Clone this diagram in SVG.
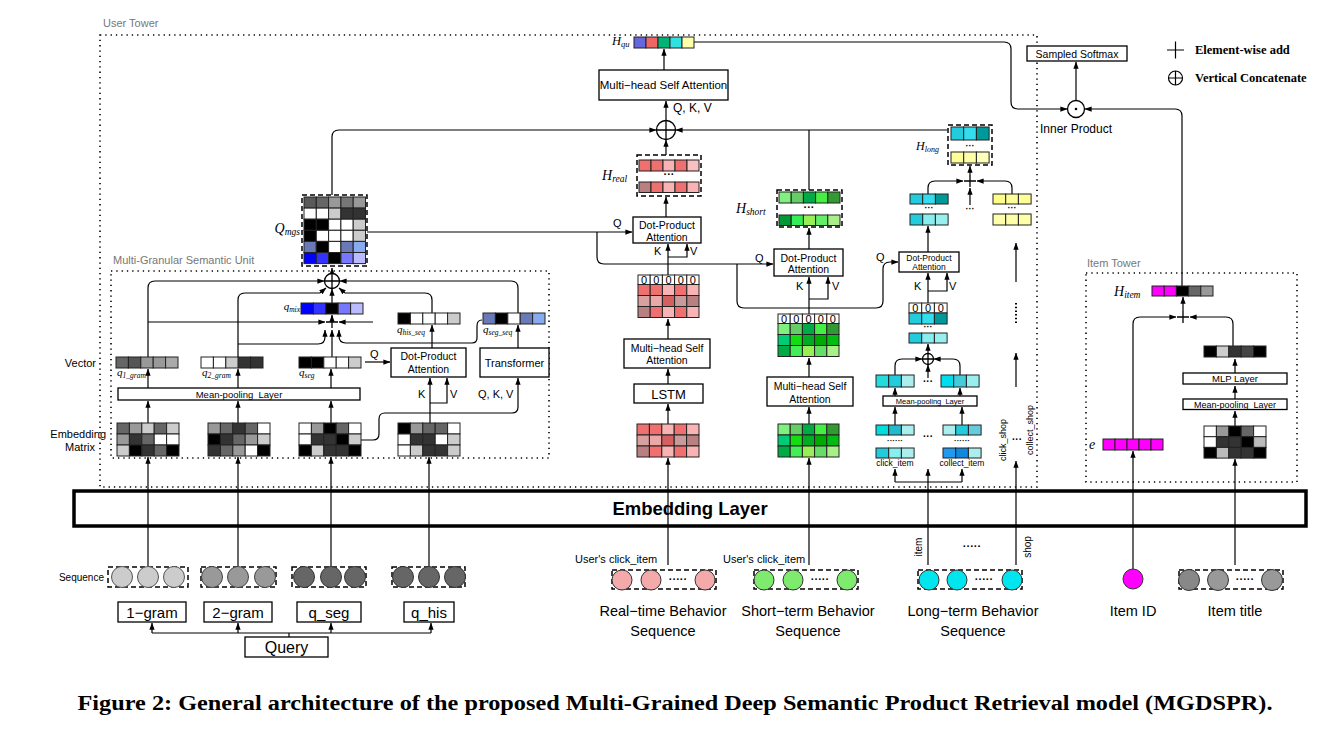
<svg xmlns="http://www.w3.org/2000/svg" width="1327" height="737" viewBox="0 0 1327 737">
<defs>
<marker id="ah" viewBox="0 0 8 6" refX="7.6" refY="3" markerWidth="7" markerHeight="5.5" markerUnits="userSpaceOnUse" orient="auto"><path d="M0,0 L8,3 L0,6 z" fill="#000"/></marker>
</defs>
<style>
.c{stroke:#222;stroke-width:1}
.bx{fill:#fff;stroke:#000;stroke-width:1.3}
.ln{fill:none;stroke:#000;stroke-width:1.2}
.a{marker-end:url(#ah)}
.dt{fill:none;stroke:#000;stroke-width:1.6;stroke-dasharray:1.3 4}
.ds{fill:none;stroke:#000;stroke-width:1.5;stroke-dasharray:5 3}
.t{font-family:"Liberation Sans",Arial,sans-serif;fill:#000}
.gr{fill:#777}
.m{font-family:"Liberation Serif","Times New Roman",serif;font-style:italic;fill:#000}
.mid{text-anchor:middle}
.end{text-anchor:end}
.z{font-family:"Liberation Sans",Arial,sans-serif;font-size:11px;text-anchor:middle}
</style>
<rect x="0" y="0" width="1327" height="737" fill="#fff"/>

<!-- containers -->
<g id="user-tower">
<rect class="dt" x="100" y="35" width="937" height="452"/>
<text class="t gr" x="103" y="27" font-size="11">User Tower</text>
</g>
<g id="mgsu-box">
<rect class="dt" x="111" y="271" width="438" height="187"/>
<text class="t gr" x="113" y="264" font-size="11">Multi-Granular Semantic Unit</text>
</g>
<g id="item-tower">
<rect class="dt" x="1086" y="273" width="211" height="209"/>
<text class="t gr" x="1087" y="267" font-size="11">Item Tower</text>
</g>

<g id="embedding-layer">
<rect x="74" y="491" width="1232" height="35" fill="#fff" stroke="#000" stroke-width="3.5"/>
<text class="t mid" x="690" y="515" font-size="18.5" font-weight="bold">Embedding Layer</text>
</g>

<!-- connectors -->
<g id="connectors">
<!-- query -->
<path class="ln" d="M289,637 V633 M152,633 H431"/>
<path class="ln a" d="M152,633 V623"/>
<path class="ln a" d="M238,633 V623"/>
<path class="ln a" d="M331,633 V623"/>
<path class="ln a" d="M431,633 V623"/>
<!-- sequences to matrices -->
<path class="ln a" d="M148,566 V457"/>
<path class="ln a" d="M238,566 V457"/>
<path class="ln a" d="M331,566 V457"/>
<path class="ln a" d="M429,566 V457"/>
<!-- matrices to mean pool to vectors -->
<path class="ln a" d="M148,423 V401"/>
<path class="ln a" d="M238,423 V401"/>
<path class="ln a" d="M331,423 V401"/>
<path class="ln a" d="M148,388 V369"/>
<path class="ln a" d="M238,388 V369"/>
<path class="ln a" d="M331,388 V369"/>
<!-- MGSU internal -->
<path class="ln a" d="M148,357 V288 Q148,281 155,281 H324"/>
<path class="ln a" d="M148,322 H325"/>
<path class="ln a" d="M238,357 V300 Q238,293 245,293 H320 L326,288"/>
<path class="ln a" d="M238,344 H318 Q325,344 325,337 V330"/>
<path class="ln a" d="M332,357 V330"/>
<path class="ln a" d="M482,320 Q477,320 477,326 V338 Q477,343 472,343 H346 Q339,343 339,336 V330"/>
<path class="ln a" d="M432,313 V300 Q432,293 425,293 H345 L339,288"/>
<path class="ln a" d="M518,313 V288 Q518,281 511,281 H340"/>
<path class="ln a" d="M373,322 H339"/>
<path class="ln a" d="M332,303 V289"/>
<path class="ln a" d="M332,319 V315"/>
<path class="ln a" d="M332,274 V268"/>
<path class="ln a" d="M365,362 H390"/>
<path class="ln a" d="M430,423 V378"/>
<path class="ln a" d="M430,403 H447 V378"/>
<path class="ln a" d="M432,348 V325"/>
<path class="ln a" d="M518,348 V325"/>
<path class="ln a" d="M361,440 H373 Q379,440 379,434 V419 Q379,413 385,413 H512 Q518,413 518,407 V378"/>
<!-- Q_mgs lines -->
<path class="ln a" d="M332,195 V137 Q332,130 339,130 H656"/>
<path class="ln a" d="M367,232 H632"/>
<path class="ln a" d="M597,232 V257 Q597,264 604,264 H773"/>
<path class="ln a" d="M737,264 V301 Q737,308 744,308 H876 Q883,308 883,301 V269 Q883,262 890,262 H898"/>
<!-- real-time column -->
<path class="ln a" d="M668,565 V458"/>
<path class="ln a" d="M668,424 V404"/>
<path class="ln a" d="M668,384 V369"/>
<path class="ln a" d="M668,339 V319"/>
<path class="ln a" d="M668,275 V244"/>
<path class="ln a" d="M668,257 H687 V244"/>
<path class="ln a" d="M666,217 V197"/>
<path class="ln a" d="M666,155 V140"/>
<path class="ln a" d="M666,121 V101"/>
<path class="ln a" d="M664,70 V49"/>
<path class="ln a" d="M694,42 H1004 Q1011,42 1011,49 V102 Q1011,109 1018,109 H1067"/>
<path class="ln a" d="M1076,101 V62"/>
<path class="ln a" d="M1182,286 V116 Q1182,109 1175,109 H1085"/>
<!-- short-term column -->
<path class="ln a" d="M809,565 V458"/>
<path class="ln a" d="M809,424 V407"/>
<path class="ln a" d="M809,377 V358"/>
<path class="ln a" d="M809,314 V277"/>
<path class="ln a" d="M809,299 H828 V277"/>
<path class="ln a" d="M809,249 V228"/>
<path class="ln" d="M809,190 V130"/>
<path class="ln a" d="M947,130 H676"/>
<!-- long-term column -->
<path class="ln a" d="M928,565 V469"/>
<path class="ln" d="M895,482 H962"/>
<path class="ln a" d="M895,482 V469"/>
<path class="ln a" d="M962,482 V469"/>
<path class="ln a" d="M895,425 V407"/>
<path class="ln a" d="M962,425 V407"/>
<path class="ln a" d="M895,396 V388"/>
<path class="ln a" d="M960,396 V388"/>
<path class="ln a" d="M895,375 V366 Q895,359 902,359 H922"/>
<path class="ln a" d="M960,375 V366 Q960,359 953,359 H934"/>
<path class="ln a" d="M928,378 V365"/>
<path class="ln a" d="M928,353 V344"/>
<path class="ln a" d="M928,303 V273"/>
<path class="ln a" d="M928,291 H947 V273"/>
<path class="ln a" d="M928,252 V226"/>
<path class="ln a" d="M928,194 V188 Q928,181 935,181 H963"/>
<path class="ln a" d="M1012,194 V188 Q1012,181 1005,181 H977"/>
<path class="ln a" d="M970,205 V188"/>
<path class="ln a" d="M970,175 V166"/>
<path class="ln a" d="M1016,565 V461"/>
<path class="ln a" d="M1016,387 V353"/>
<path d="M1016,303 V325" fill="none" stroke="#000" stroke-width="2" stroke-dasharray="1.5 2.2"/>
<path class="ln a" d="M1016,282 V243"/>
<!-- item tower -->
<path class="ln a" d="M1133,569 V451"/>
<path class="ln a" d="M1235,565 V459"/>
<path class="ln a" d="M1235,426 V411"/>
<path class="ln a" d="M1235,399 V386"/>
<path class="ln a" d="M1235,373 V359"/>
<path class="ln a" d="M1133,439 V324 Q1133,317 1140,317 H1176"/>
<path class="ln a" d="M1233,346 V324 Q1233,317 1226,317 H1190"/>
<path class="ln a" d="M1183,311 V297"/>
</g>

<!-- operators -->
<g id="ops" fill="none" stroke="#000" stroke-width="1.3">
<circle cx="332" cy="281" r="7.5" fill="#fff"/><path d="M324.5,281 H339.5 M332,273.5 V288.5"/>
<path d="M326,322 H338 M332,316 V328"/>
<circle cx="666" cy="130" r="9.5" fill="#fff"/><path d="M656.5,130 H675.5 M666,120.5 V139.5"/>
<circle cx="928" cy="359" r="5.5" fill="#fff"/><path d="M922.5,359 H933.5 M928,353.5 V364.5"/>
<path d="M964,181 H976 M970,175 V187"/>
<path d="M1177,317 H1189 M1183,311 V323"/>
<circle cx="1076" cy="109" r="8.5" fill="#fff"/>
</g>
<circle cx="1076" cy="109" r="1.3" fill="#000"/>
<text class="t mid" x="1076" y="133" font-size="12">Inner Product</text>

<g id="legend">
<path d="M1167,50 H1184 M1175.5,41.5 V58.5" stroke="#000" stroke-width="1.2" fill="none"/>
<text x="1195" y="54" font-family="Liberation Serif,Times New Roman,serif" font-weight="bold" font-size="12.5">Element-wise add</text>
<circle cx="1175.5" cy="78" r="7" fill="none" stroke="#000" stroke-width="1.2"/>
<path d="M1168.5,78 H1182.5 M1175.5,71 V85" stroke="#000" stroke-width="1.2" fill="none"/>
<text x="1195" y="82" font-family="Liberation Serif,Times New Roman,serif" font-weight="bold" font-size="12.5">Vertical Concatenate</text>
</g>

<g id="sampled-softmax">
<rect class="bx" x="1027" y="46" width="100" height="15"/>
<text class="t mid" x="1077" y="57.5" font-size="10.5">Sampled Softmax</text>
</g>

<!-- Query side -->
<g id="query">
<rect class="bx" x="245" y="637" width="83" height="20"/>
<text class="t mid" x="286.5" y="653" font-size="16">Query</text>
</g>
<g id="gram-boxes">
<rect class="bx" x="118" y="602" width="68" height="20"/><text class="t mid" x="152" y="618" font-size="15">1−gram</text>
<rect class="bx" x="204" y="602" width="68" height="20"/><text class="t mid" x="238" y="618" font-size="15">2−gram</text>
<rect class="bx" x="297" y="602" width="64" height="20"/><text class="t mid" x="329" y="618" font-size="15">q_seg</text>
<rect class="bx" x="404" y="602" width="50" height="20"/><text class="t mid" x="429" y="618" font-size="15">q_his</text>
</g>
<g id="query-sequences">
<text class="t end" x="104" y="581" font-size="10">Sequence</text>
<rect class="ds" x="108" y="567" width="80" height="20"/>
<circle cx="122" cy="577" r="10.5" fill="#cccccc" stroke="#555"/>
<circle cx="148" cy="577" r="10.5" fill="#cccccc" stroke="#555"/>
<circle cx="174" cy="577" r="10.5" fill="#cccccc" stroke="#555"/>
<rect class="ds" x="201" y="567" width="75" height="20"/>
<circle cx="212" cy="577" r="10.5" fill="#999" stroke="#444"/>
<circle cx="238" cy="577" r="10.5" fill="#999" stroke="#444"/>
<circle cx="265" cy="577" r="10.5" fill="#999" stroke="#444"/>
<rect class="ds" x="292" y="567" width="74" height="20"/>
<circle cx="304" cy="577" r="10.5" fill="#666" stroke="#333"/>
<circle cx="331" cy="577" r="10.5" fill="#666" stroke="#333"/>
<circle cx="355" cy="577" r="10.5" fill="#666" stroke="#333"/>
<rect class="ds" x="392" y="567" width="73" height="20"/>
<circle cx="403" cy="577" r="10.5" fill="#666" stroke="#333"/>
<circle cx="429" cy="577" r="10.5" fill="#666" stroke="#333"/>
<circle cx="455" cy="577" r="10.5" fill="#666" stroke="#333"/>
</g>

<!-- MGSU contents -->
<g id="emb-matrices" class="c">
<g transform="translate(117,423)">
<rect x="0" y="0" width="12.4" height="11" fill="#666"/><rect x="12.4" y="0" width="12.4" height="11" fill="#999"/><rect x="24.8" y="0" width="12.4" height="11" fill="#ccc"/><rect x="37.2" y="0" width="12.4" height="11" fill="#666"/><rect x="49.6" y="0" width="12.4" height="11" fill="#ccc"/>
<rect x="0" y="11" width="12.4" height="11" fill="#999"/><rect x="12.4" y="11" width="12.4" height="11" fill="#333"/><rect x="24.8" y="11" width="12.4" height="11" fill="#666"/><rect x="37.2" y="11" width="12.4" height="11" fill="#fff"/><rect x="49.6" y="11" width="12.4" height="11" fill="#fff"/>
<rect x="0" y="22" width="12.4" height="11" fill="#ccc"/><rect x="12.4" y="22" width="12.4" height="11" fill="#000"/><rect x="24.8" y="22" width="12.4" height="11" fill="#333"/><rect x="37.2" y="22" width="12.4" height="11" fill="#666"/><rect x="49.6" y="22" width="12.4" height="11" fill="#000"/>
</g>
<g transform="translate(208,423)">
<rect x="0" y="0" width="12.4" height="11" fill="#999"/><rect x="12.4" y="0" width="12.4" height="11" fill="#666"/><rect x="24.8" y="0" width="12.4" height="11" fill="#333"/><rect x="37.2" y="0" width="12.4" height="11" fill="#666"/><rect x="49.6" y="0" width="12.4" height="11" fill="#fff"/>
<rect x="0" y="11" width="12.4" height="11" fill="#000"/><rect x="12.4" y="11" width="12.4" height="11" fill="#333"/><rect x="24.8" y="11" width="12.4" height="11" fill="#666"/><rect x="37.2" y="11" width="12.4" height="11" fill="#999"/><rect x="49.6" y="11" width="12.4" height="11" fill="#ccc"/>
<rect x="0" y="22" width="12.4" height="11" fill="#333"/><rect x="12.4" y="22" width="12.4" height="11" fill="#666"/><rect x="24.8" y="22" width="12.4" height="11" fill="#999"/><rect x="37.2" y="22" width="12.4" height="11" fill="#fff"/><rect x="49.6" y="22" width="12.4" height="11" fill="#000"/>
</g>
<g transform="translate(299,423)">
<rect x="0" y="0" width="12.4" height="11" fill="#fff"/><rect x="12.4" y="0" width="12.4" height="11" fill="#999"/><rect x="24.8" y="0" width="12.4" height="11" fill="#000"/><rect x="37.2" y="0" width="12.4" height="11" fill="#666"/><rect x="49.6" y="0" width="12.4" height="11" fill="#fff"/>
<rect x="0" y="11" width="12.4" height="11" fill="#fff"/><rect x="12.4" y="11" width="12.4" height="11" fill="#333"/><rect x="24.8" y="11" width="12.4" height="11" fill="#333"/><rect x="37.2" y="11" width="12.4" height="11" fill="#000"/><rect x="49.6" y="11" width="12.4" height="11" fill="#ccc"/>
<rect x="0" y="22" width="12.4" height="11" fill="#000"/><rect x="12.4" y="22" width="12.4" height="11" fill="#ccc"/><rect x="24.8" y="22" width="12.4" height="11" fill="#333"/><rect x="37.2" y="22" width="12.4" height="11" fill="#333"/><rect x="49.6" y="22" width="12.4" height="11" fill="#000"/>
</g>
<g transform="translate(398,423)">
<rect x="0" y="0" width="12.4" height="11" fill="#000"/><rect x="12.4" y="0" width="12.4" height="11" fill="#999"/><rect x="24.8" y="0" width="12.4" height="11" fill="#666"/><rect x="37.2" y="0" width="12.4" height="11" fill="#666"/><rect x="49.6" y="0" width="12.4" height="11" fill="#fff"/>
<rect x="0" y="11" width="12.4" height="11" fill="#fff"/><rect x="12.4" y="11" width="12.4" height="11" fill="#333"/><rect x="24.8" y="11" width="12.4" height="11" fill="#333"/><rect x="37.2" y="11" width="12.4" height="11" fill="#fff"/><rect x="49.6" y="11" width="12.4" height="11" fill="#ccc"/>
<rect x="0" y="22" width="12.4" height="11" fill="#fff"/><rect x="12.4" y="22" width="12.4" height="11" fill="#ccc"/><rect x="24.8" y="22" width="12.4" height="11" fill="#333"/><rect x="37.2" y="22" width="12.4" height="11" fill="#333"/><rect x="49.6" y="22" width="12.4" height="11" fill="#ccc"/>
</g>
</g>
<text class="t end" x="96" y="367" font-size="11">Vector</text>
<text class="t end" x="106" y="438" font-size="11">Embedding</text>
<text class="t end" x="95" y="451" font-size="11">Matrix</text>

<g id="mean-pool-q">
<rect class="bx" x="118" y="388" width="242" height="12"/>
<text class="t mid" x="239" y="397.5" font-size="9.5" xml:space="preserve">Mean-pooling  Layer</text>
</g>

<g id="q-vectors" class="c">
<g transform="translate(116,357)"><rect x="0" width="12.4" height="11" fill="#666"/><rect x="12.4" width="12.4" height="11" fill="#555"/><rect x="24.8" width="12.4" height="11" fill="#999"/><rect x="37.2" width="12.4" height="11" fill="#999"/><rect x="49.6" width="12.4" height="11" fill="#aaa"/></g>
<g transform="translate(201,357)"><rect x="0" width="12.4" height="11" fill="#fff"/><rect x="12.4" width="12.4" height="11" fill="#fff"/><rect x="24.8" width="12.4" height="11" fill="#ccc"/><rect x="37.2" width="12.4" height="11" fill="#333"/><rect x="49.6" width="12.4" height="11" fill="#333"/></g>
<g transform="translate(299,357)"><rect x="0" width="12.4" height="11" fill="#000"/><rect x="12.4" width="12.4" height="11" fill="#000"/><rect x="24.8" width="12.4" height="11" fill="#fff"/><rect x="37.2" width="12.4" height="11" fill="#fff"/><rect x="49.6" width="12.4" height="11" fill="#ccc"/></g>
<g transform="translate(301,303)"><rect x="0" width="12.4" height="11" fill="#0000ff"/><rect x="12.4" width="12.4" height="11" fill="#3333ff"/><rect x="24.8" width="12.4" height="11" fill="#000"/><rect x="37.2" width="12.4" height="11" fill="#7777ff"/><rect x="49.6" width="12.4" height="11" fill="#bbbbff"/></g>
<g transform="translate(398,313)"><rect x="0" width="12.4" height="11" fill="#000"/><rect x="12.4" width="12.4" height="11" fill="#fff"/><rect x="24.8" width="12.4" height="11" fill="#fff"/><rect x="37.2" width="12.4" height="11" fill="#fff"/><rect x="49.6" width="12.4" height="11" fill="#ccc"/></g>
<g transform="translate(483,313)"><rect x="0" width="12.4" height="11" fill="#6a7ab8"/><rect x="12.4" width="12.4" height="11" fill="#000"/><rect x="24.8" width="12.4" height="11" fill="#fff"/><rect x="37.2" width="12.4" height="11" fill="#6a7ab8"/><rect x="49.6" width="12.4" height="11" fill="#88aaee"/></g>
</g>
<g id="q-labels">
<text class="m" x="117" y="376" font-size="11">q<tspan font-size="7.5" dy="1.5">1_gram</tspan></text>
<text class="m" x="202" y="376" font-size="11">q<tspan font-size="7.5" dy="1.5">2_gram</tspan></text>
<text class="m" x="299" y="376" font-size="11">q<tspan font-size="7.5" dy="1.5">seg</tspan></text>
<text class="m end" x="300" y="310" font-size="11">q<tspan font-size="7.5" dy="1.5">mix</tspan></text>
<text class="m" x="397" y="333" font-size="11">q<tspan font-size="7.5" dy="1.5">his_seq</tspan></text>
<text class="m" x="483" y="333" font-size="11">q<tspan font-size="7.5" dy="1.5">seg_seq</tspan></text>
</g>

<g id="dpa-q">
<rect class="bx" x="391" y="348" width="75" height="29"/>
<text class="t mid" x="428.5" y="360" font-size="10.5">Dot-Product</text>
<text class="t mid" x="428.5" y="373" font-size="10.5">Attention</text>
</g>
<g id="transformer">
<rect class="bx" x="480" y="348" width="69" height="29"/>
<text class="t mid" x="514.5" y="366.5" font-size="11">Transformer</text>
</g>
<g id="mgsu-labels">
<text class="t" x="370" y="358" font-size="11">Q</text>
<text class="t" x="418" y="398" font-size="11">K</text>
<text class="t" x="450" y="398" font-size="11">V</text>
<text class="t" x="478" y="398" font-size="11">Q, K, V</text>
</g>

<g id="q-mgs">
<g class="c" transform="translate(304,197)">
<rect x="0" y="0" width="12.3" height="11.1" fill="#5a5a5a"/><rect x="12.3" y="0" width="12.3" height="11.1" fill="#666"/><rect x="24.6" y="0" width="12.3" height="11.1" fill="#999"/><rect x="36.9" y="0" width="12.3" height="11.1" fill="#777"/><rect x="49.2" y="0" width="12.3" height="11.1" fill="#999"/>
<rect x="0" y="11.1" width="12.3" height="11.1" fill="#fff"/><rect x="12.3" y="11.1" width="12.3" height="11.1" fill="#fff"/><rect x="24.6" y="11.1" width="12.3" height="11.1" fill="#ccc"/><rect x="36.9" y="11.1" width="12.3" height="11.1" fill="#333"/><rect x="49.2" y="11.1" width="12.3" height="11.1" fill="#333"/>
<rect x="0" y="22.2" width="12.3" height="11.1" fill="#000"/><rect x="12.3" y="22.2" width="12.3" height="11.1" fill="#000"/><rect x="24.6" y="22.2" width="12.3" height="11.1" fill="#fff"/><rect x="36.9" y="22.2" width="12.3" height="11.1" fill="#fff"/><rect x="49.2" y="22.2" width="12.3" height="11.1" fill="#ccc"/>
<rect x="0" y="33.3" width="12.3" height="11.1" fill="#000"/><rect x="12.3" y="33.3" width="12.3" height="11.1" fill="#fff"/><rect x="24.6" y="33.3" width="12.3" height="11.1" fill="#fff"/><rect x="36.9" y="33.3" width="12.3" height="11.1" fill="#fff"/><rect x="49.2" y="33.3" width="12.3" height="11.1" fill="#ccc"/>
<rect x="0" y="44.4" width="12.3" height="11.1" fill="#6a7ab8"/><rect x="12.3" y="44.4" width="12.3" height="11.1" fill="#000"/><rect x="24.6" y="44.4" width="12.3" height="11.1" fill="#fff"/><rect x="36.9" y="44.4" width="12.3" height="11.1" fill="#6a7ab8"/><rect x="49.2" y="44.4" width="12.3" height="11.1" fill="#88aaee"/>
<rect x="0" y="55.5" width="12.3" height="11.1" fill="#0000ff"/><rect x="12.3" y="55.5" width="12.3" height="11.1" fill="#3333ff"/><rect x="24.6" y="55.5" width="12.3" height="11.1" fill="#000"/><rect x="36.9" y="55.5" width="12.3" height="11.1" fill="#7777ff"/><rect x="49.2" y="55.5" width="12.3" height="11.1" fill="#bbbbff"/>
</g>
<rect class="ds" x="302" y="195" width="65" height="71"/>
<text class="m end" x="300" y="233" font-size="14">Q<tspan font-size="9.5" dy="2">mgs</tspan></text>
</g>

<!-- Real-time column -->
<g id="realtime-seq">
<text class="t" x="575" y="563" font-size="11">User's click_item</text>
<rect class="ds" x="612" y="570" width="104" height="19"/>
<circle cx="622" cy="580" r="10" fill="#f4aaaa" stroke="#333"/>
<circle cx="651" cy="580" r="10" fill="#f4aaaa" stroke="#333"/>
<circle cx="705" cy="580" r="10" fill="#f4aaaa" stroke="#333"/>
<text class="t mid" x="678" y="583" font-size="11" font-weight="bold">·····</text>
<text class="t mid" x="663" y="616" font-size="14.5">Real−time Behavior</text>
<text class="t mid" x="663" y="636" font-size="14.5">Sequence</text>
</g>
<g id="pink-emb" class="c" transform="translate(637,424)">
<rect x="0" y="0" width="12.4" height="11" fill="#f07070"/><rect x="12.4" y="0" width="12.4" height="11" fill="#f07070"/><rect x="24.8" y="0" width="12.4" height="11" fill="#f8b4b4"/><rect x="37.2" y="0" width="12.4" height="11" fill="#f07070"/><rect x="49.6" y="0" width="12.4" height="11" fill="#f8b4b4"/>
<rect x="0" y="11" width="12.4" height="11" fill="#d9a0a0"/><rect x="12.4" y="11" width="12.4" height="11" fill="#eaa8a8"/><rect x="24.8" y="11" width="12.4" height="11" fill="#d46060"/><rect x="37.2" y="11" width="12.4" height="11" fill="#c89a9a"/><rect x="49.6" y="11" width="12.4" height="11" fill="#b88080"/>
<rect x="0" y="22" width="12.4" height="11" fill="#b88080"/><rect x="12.4" y="22" width="12.4" height="11" fill="#f07070"/><rect x="24.8" y="22" width="12.4" height="11" fill="#f8b4b4"/><rect x="37.2" y="22" width="12.4" height="11" fill="#f07070"/><rect x="49.6" y="22" width="12.4" height="11" fill="#f8b4b4"/>
</g>
<g id="lstm">
<rect class="bx" x="634" y="384" width="69" height="19"/>
<text class="t mid" x="668.5" y="398.5" font-size="13">LSTM</text>
</g>
<g id="mhsa-real">
<rect class="bx" x="624" y="339" width="86" height="29"/>
<text class="t mid" x="667" y="351.5" font-size="10.5">Multi−head Self</text>
<text class="t mid" x="667" y="364" font-size="10.5">Attention</text>
</g>
<g id="pink-zero" class="c" transform="translate(638,275)">
<rect x="0" y="0" width="12.2" height="9.5" fill="#fff"/><rect x="12.2" y="0" width="12.2" height="9.5" fill="#fff"/><rect x="24.4" y="0" width="12.2" height="9.5" fill="#fff"/><rect x="36.6" y="0" width="12.2" height="9.5" fill="#fff"/><rect x="48.8" y="0" width="12.2" height="9.5" fill="#fff"/>
<rect x="0" y="9.5" width="12.2" height="11" fill="#f07070"/><rect x="12.2" y="9.5" width="12.2" height="11" fill="#f07070"/><rect x="24.4" y="9.5" width="12.2" height="11" fill="#f8b4b4"/><rect x="36.6" y="9.5" width="12.2" height="11" fill="#f07070"/><rect x="48.8" y="9.5" width="12.2" height="11" fill="#f8b4b4"/>
<rect x="0" y="20.5" width="12.2" height="11" fill="#d9a0a0"/><rect x="12.2" y="20.5" width="12.2" height="11" fill="#eaa8a8"/><rect x="24.4" y="20.5" width="12.2" height="11" fill="#d46060"/><rect x="36.6" y="20.5" width="12.2" height="11" fill="#c89a9a"/><rect x="48.8" y="20.5" width="12.2" height="11" fill="#b88080"/>
<rect x="0" y="31.5" width="12.2" height="11" fill="#b88080"/><rect x="12.2" y="31.5" width="12.2" height="11" fill="#f07070"/><rect x="24.4" y="31.5" width="12.2" height="11" fill="#f8b4b4"/><rect x="36.6" y="31.5" width="12.2" height="11" fill="#f07070"/><rect x="48.8" y="31.5" width="12.2" height="11" fill="#f8b4b4"/>
<g class="z" stroke="none"><text x="6.1" y="8.8">0</text><text x="18.3" y="8.8">0</text><text x="30.5" y="8.8">0</text><text x="42.7" y="8.8">0</text><text x="54.9" y="8.8">0</text></g>
</g>
<g id="dpa-real">
<rect class="bx" x="633" y="217" width="68" height="26"/>
<text class="t mid" x="667" y="229" font-size="10.5">Dot-Product</text>
<text class="t mid" x="667" y="241" font-size="10.5">Attention</text>
<text class="t" x="613" y="227" font-size="11">Q</text>
<text class="t" x="654" y="255" font-size="11">K</text>
<text class="t" x="690" y="255" font-size="11">V</text>
</g>
<g id="h-real">
<g class="c" transform="translate(639,160)">
<rect x="0" width="12" height="11" fill="#f07070"/><rect x="12" width="12" height="11" fill="#f07070"/><rect x="24" width="12" height="11" fill="#f8b4b4"/><rect x="36" width="12" height="11" fill="#f07070"/><rect x="48" width="12" height="11" fill="#f8c0c0"/>
</g>
<g class="c" transform="translate(639,182)">
<rect x="0" width="12" height="10.5" fill="#b88080"/><rect x="12" width="12" height="10.5" fill="#f07070"/><rect x="24" width="12" height="10.5" fill="#f8b4b4"/><rect x="36" width="12" height="10.5" fill="#f07070"/><rect x="48" width="12" height="10.5" fill="#f8b4b4"/>
</g>
<text class="t mid" x="669" y="178" font-size="11" font-weight="bold">···</text>
<rect class="ds" x="637" y="155" width="64" height="41"/>
<text class="m" x="602" y="180" font-size="14">H<tspan font-size="9.5" dy="2">real</tspan></text>
</g>
<g id="concat-top-label">
<text class="t" x="673" y="112" font-size="12">Q, K, V</text>
</g>
<g id="mhsa-top">
<rect class="bx" x="599" y="70" width="129" height="30"/>
<text class="t mid" x="663.5" y="89" font-size="11.5">Multi−head Self Attention</text>
</g>
<g id="h-qu">
<g class="c" transform="translate(634,37)">
<rect x="0" width="12" height="11" fill="#6666dd"/><rect x="12" width="12" height="11" fill="#ee6666"/><rect x="24" width="12" height="11" fill="#00b377"/><rect x="36" width="12" height="11" fill="#33e0e0"/><rect x="48" width="12" height="11" fill="#ffffaa"/>
</g>
<text class="m" x="612" y="45" font-size="12.5">H<tspan font-size="8.5" dy="2">qu</tspan></text>
</g>

<!-- Short-term column -->
<g id="shortterm-seq">
<text class="t" x="723" y="563" font-size="11">User's click_item</text>
<rect class="ds" x="754" y="570" width="104" height="19"/>
<circle cx="764" cy="580" r="10" fill="#7eea6e" stroke="#333"/>
<circle cx="793" cy="580" r="10" fill="#7eea6e" stroke="#333"/>
<circle cx="847" cy="580" r="10" fill="#7eea6e" stroke="#333"/>
<text class="t mid" x="820" y="583" font-size="11" font-weight="bold">·····</text>
<text class="t mid" x="808" y="616" font-size="14.5">Short−term Behavior</text>
<text class="t mid" x="808" y="636" font-size="14.5">Sequence</text>
</g>
<g id="green-emb" class="c" transform="translate(778,424)">
<rect x="0" y="0" width="12.2" height="11" fill="#80f080"/><rect x="12.2" y="0" width="12.2" height="11" fill="#66cc66"/><rect x="24.4" y="0" width="12.2" height="11" fill="#00aa44"/><rect x="36.6" y="0" width="12.2" height="11" fill="#44ee44"/><rect x="48.8" y="0" width="12.2" height="11" fill="#339933"/>
<rect x="0" y="11" width="12.2" height="11" fill="#00cc77"/><rect x="12.2" y="11" width="12.2" height="11" fill="#11dd11"/><rect x="24.4" y="11" width="12.2" height="11" fill="#00aa22"/><rect x="36.6" y="11" width="12.2" height="11" fill="#00aa00"/><rect x="48.8" y="11" width="12.2" height="11" fill="#00bb11"/>
<rect x="0" y="22" width="12.2" height="11" fill="#00aa44"/><rect x="12.2" y="22" width="12.2" height="11" fill="#44ee55"/><rect x="24.4" y="22" width="12.2" height="11" fill="#99ee55"/><rect x="36.6" y="22" width="12.2" height="11" fill="#66dd66"/><rect x="48.8" y="22" width="12.2" height="11" fill="#aaee88"/>
</g>
<g id="mhsa-short">
<rect class="bx" x="767" y="377" width="86" height="29"/>
<text class="t mid" x="810" y="390" font-size="10.5">Multi−head Self</text>
<text class="t mid" x="810" y="402.5" font-size="10.5">Attention</text>
</g>
<g id="green-zero" class="c" transform="translate(778,314)">
<rect x="0" y="0" width="12.2" height="9.5" fill="#fff"/><rect x="12.2" y="0" width="12.2" height="9.5" fill="#fff"/><rect x="24.4" y="0" width="12.2" height="9.5" fill="#fff"/><rect x="36.6" y="0" width="12.2" height="9.5" fill="#fff"/><rect x="48.8" y="0" width="12.2" height="9.5" fill="#fff"/>
<rect x="0" y="9.5" width="12.2" height="11" fill="#80f080"/><rect x="12.2" y="9.5" width="12.2" height="11" fill="#66cc66"/><rect x="24.4" y="9.5" width="12.2" height="11" fill="#00aa44"/><rect x="36.6" y="9.5" width="12.2" height="11" fill="#44ee44"/><rect x="48.8" y="9.5" width="12.2" height="11" fill="#339933"/>
<rect x="0" y="20.5" width="12.2" height="11" fill="#00cc77"/><rect x="12.2" y="20.5" width="12.2" height="11" fill="#11dd11"/><rect x="24.4" y="20.5" width="12.2" height="11" fill="#00aa22"/><rect x="36.6" y="20.5" width="12.2" height="11" fill="#00aa00"/><rect x="48.8" y="20.5" width="12.2" height="11" fill="#00bb11"/>
<rect x="0" y="31.5" width="12.2" height="11" fill="#00aa44"/><rect x="12.2" y="31.5" width="12.2" height="11" fill="#44ee55"/><rect x="24.4" y="31.5" width="12.2" height="11" fill="#99ee55"/><rect x="36.6" y="31.5" width="12.2" height="11" fill="#66dd66"/><rect x="48.8" y="31.5" width="12.2" height="11" fill="#aaee88"/>
<g class="z" stroke="none"><text x="6.1" y="8.8">0</text><text x="18.3" y="8.8">0</text><text x="30.5" y="8.8">0</text><text x="42.7" y="8.8">0</text><text x="54.9" y="8.8">0</text></g>
</g>
<g id="dpa-short">
<rect class="bx" x="774" y="249" width="69" height="27"/>
<text class="t mid" x="808.5" y="261.5" font-size="10.5">Dot-Product</text>
<text class="t mid" x="808.5" y="273" font-size="10.5">Attention</text>
<text class="t" x="755" y="262" font-size="11">Q</text>
<text class="t" x="796" y="290" font-size="11">K</text>
<text class="t" x="832" y="290" font-size="11">V</text>
</g>
<g id="h-short">
<g class="c" transform="translate(779,192)">
<rect x="0" width="12.2" height="11" fill="#80f080"/><rect x="12.2" width="12.2" height="11" fill="#66cc66"/><rect x="24.4" width="12.2" height="11" fill="#00aa44"/><rect x="36.6" width="12.2" height="11" fill="#44ee44"/><rect x="48.8" width="12.2" height="11" fill="#339933"/>
</g>
<g class="c" transform="translate(779,215)">
<rect x="0" width="12.2" height="10.5" fill="#009933"/><rect x="12.2" width="12.2" height="10.5" fill="#33ee55"/><rect x="24.4" width="12.2" height="10.5" fill="#99ee55"/><rect x="36.6" width="12.2" height="10.5" fill="#66ee66"/><rect x="48.8" width="12.2" height="10.5" fill="#aaee88"/>
</g>
<text class="t mid" x="809" y="211" font-size="11" font-weight="bold">···</text>
<rect class="ds" x="777" y="190" width="65" height="37"/>
<text class="m" x="736" y="213" font-size="14">H<tspan font-size="9.5" dy="2">short</tspan></text>
</g>

<!-- Long-term column -->
<g id="longterm-seq">
<text class="t mid" x="0" y="0" font-size="10" transform="translate(922,547) rotate(-90)">item</text>
<text class="t mid" x="0" y="0" font-size="10" transform="translate(1031,547) rotate(-90)">shop</text>
<text class="t mid" x="972" y="550" font-size="11" font-weight="bold">·····</text>
<rect class="ds" x="918" y="570" width="104" height="19"/>
<circle cx="929" cy="580" r="10" fill="#00e5ee" stroke="#333"/>
<circle cx="957" cy="580" r="10" fill="#00e5ee" stroke="#333"/>
<circle cx="1012" cy="580" r="10" fill="#00e5ee" stroke="#333"/>
<text class="t mid" x="984" y="583" font-size="11" font-weight="bold">·····</text>
<text class="t mid" x="973" y="616" font-size="14.5">Long−term Behavior</text>
<text class="t mid" x="973" y="636" font-size="14.5">Sequence</text>
</g>
<g id="long-item-emb">
<g class="c" transform="translate(876,425)"><rect x="0" width="12.7" height="10" fill="#00dddd"/><rect x="12.7" width="12.7" height="10" fill="#22bbcc"/><rect x="25.4" width="12.7" height="10" fill="#aaeeee"/></g>
<g class="c" transform="translate(876,448)"><rect x="0" width="12.7" height="10" fill="#22ccdd"/><rect x="12.7" width="12.7" height="10" fill="#88eeee"/><rect x="25.4" width="12.7" height="10" fill="#aaeeee"/></g>
<g class="c" transform="translate(943,425)"><rect x="0" width="12.7" height="10" fill="#aaeeee"/><rect x="12.7" width="12.7" height="10" fill="#22ccdd"/><rect x="25.4" width="12.7" height="10" fill="#66ccdd"/></g>
<g class="c" transform="translate(943,448)"><rect x="0" width="12.7" height="10" fill="#2299ee"/><rect x="12.7" width="12.7" height="10" fill="#1188dd"/><rect x="25.4" width="12.7" height="10" fill="#aaeeee"/></g>
<text class="t mid" x="895" y="443" font-size="8" font-weight="bold">······</text>
<text class="t mid" x="962" y="443" font-size="8" font-weight="bold">······</text>
<text class="t mid" x="928" y="440" font-size="10" font-weight="bold">···</text>
<text class="t mid" x="895" y="466" font-size="8.5">click_item</text>
<text class="t mid" x="962" y="466" font-size="8.5">collect_item</text>
</g>
<g id="mean-pool-long">
<rect class="bx" x="883" y="396" width="94" height="10"/>
<text class="t mid" x="930" y="404" font-size="7.5" xml:space="preserve">Mean-pooling  Layer</text>
</g>
<g id="long-pooled">
<g class="c" transform="translate(876,375)"><rect x="0" width="12.7" height="12" fill="#22dddd"/><rect x="12.7" width="12.7" height="12" fill="#22ccdd"/><rect x="25.4" width="12.7" height="12" fill="#aaeeee"/></g>
<g class="c" transform="translate(941,375)"><rect x="0" width="12.7" height="12" fill="#00ddee"/><rect x="12.7" width="12.7" height="12" fill="#44ccdd"/><rect x="25.4" width="12.7" height="12" fill="#99eeee"/></g>
<text class="t mid" x="928" y="385" font-size="10" font-weight="bold">···</text>
</g>
<g id="long-concat">
<g class="c" transform="translate(909,333)"><rect x="0" width="12.7" height="10" fill="#22ccdd"/><rect x="12.7" width="12.7" height="10" fill="#88eeee"/><rect x="25.4" width="12.7" height="10" fill="#99eeee"/></g>
<text class="t mid" x="928" y="330" font-size="9" font-weight="bold">···</text>
<g class="c" transform="translate(909,303)">
<rect x="0" y="0" width="12.7" height="10" fill="#fff"/><rect x="12.7" y="0" width="12.7" height="10" fill="#fff"/><rect x="25.4" y="0" width="12.7" height="10" fill="#fff"/>
<rect x="0" y="10" width="12.7" height="11" fill="#22ccdd"/><rect x="12.7" y="10" width="12.7" height="11" fill="#33ddee"/><rect x="25.4" y="10" width="12.7" height="11" fill="#009999"/>
<g class="z" stroke="none" font-size="10"><text x="6.35" y="9">0</text><text x="19.05" y="9">0</text><text x="31.75" y="9">0</text></g>
</g>
</g>
<g id="dpa-long">
<rect class="bx" x="899" y="252" width="60" height="20"/>
<text class="t mid" x="929" y="261" font-size="8.5">Dot-Product</text>
<text class="t mid" x="929" y="270" font-size="8.5">Attention</text>
<text class="t" x="876" y="261" font-size="11">Q</text>
<text class="t" x="914" y="290" font-size="11">K</text>
<text class="t" x="949" y="290" font-size="11">V</text>
</g>
<g id="long-att-out">
<g class="c" transform="translate(910,194)"><rect x="0" width="12.7" height="10" fill="#22ccdd"/><rect x="12.7" width="12.7" height="10" fill="#33ddee"/><rect x="25.4" width="12.7" height="10" fill="#009999"/></g>
<g class="c" transform="translate(910,214)"><rect x="0" width="12.7" height="11" fill="#22ccdd"/><rect x="12.7" width="12.7" height="11" fill="#88eeee"/><rect x="25.4" width="12.7" height="11" fill="#99eeee"/></g>
<text class="t mid" x="929" y="211" font-size="9" font-weight="bold">···</text>
<g class="c" transform="translate(993,194)"><rect x="0" width="12.7" height="10" fill="#ffff88"/><rect x="12.7" width="12.7" height="10" fill="#ffff99"/><rect x="25.4" width="12.7" height="10" fill="#ffff99"/></g>
<g class="c" transform="translate(993,214)"><rect x="0" width="12.7" height="11" fill="#ffffaa"/><rect x="12.7" width="12.7" height="11" fill="#ffffaa"/><rect x="25.4" width="12.7" height="11" fill="#ffffaa"/></g>
<text class="t mid" x="1012" y="211" font-size="9" font-weight="bold">···</text>
<text class="t mid" x="970" y="212" font-size="9" font-weight="bold">···</text>
</g>
<g id="h-long">
<g class="c" transform="translate(951,127)"><rect x="0" width="12.7" height="13" fill="#22ccdd"/><rect x="12.7" width="12.7" height="13" fill="#33ddee"/><rect x="25.4" width="12.7" height="13" fill="#009999"/></g>
<g class="c" transform="translate(951,152)"><rect x="0" width="12.7" height="11" fill="#ffff99"/><rect x="12.7" width="12.7" height="11" fill="#ffffaa"/><rect x="25.4" width="12.7" height="11" fill="#ffffbb"/></g>
<text class="t mid" x="970" y="149" font-size="9" font-weight="bold">···</text>
<rect class="ds" x="948" y="125" width="44" height="40"/>
<text class="m" x="916" y="150" font-size="12">H<tspan font-size="8" dy="2">long</tspan></text>
</g>
<g id="shop-branch">
<text class="t mid" x="0" y="0" font-size="9" transform="translate(1006,440) rotate(-90)">click_shop</text>
<text class="t mid" x="0" y="0" font-size="9" transform="translate(1033,430) rotate(-90)">collect_shop</text>
<text class="t mid" x="1017" y="443" font-size="10" font-weight="bold">···</text>
</g>

<!-- Item tower -->
<g id="item-inputs">
<circle cx="1133" cy="579" r="10" fill="#ff00ff" stroke="#333"/>
<text class="t mid" x="1133" y="616" font-size="14.5">Item ID</text>
<rect class="ds" x="1179" y="570" width="104" height="19"/>
<circle cx="1189" cy="580" r="10.5" fill="#888" stroke="#333"/>
<circle cx="1218" cy="580" r="10.5" fill="#999" stroke="#333"/>
<circle cx="1272" cy="580" r="10.5" fill="#999" stroke="#333"/>
<text class="t mid" x="1245" y="583" font-size="11" font-weight="bold">·····</text>
<text class="t mid" x="1235" y="616" font-size="14.5">Item title</text>
</g>
<g id="e-vector">
<g class="c" transform="translate(1103,439)"><rect x="0" width="12" height="11" fill="#ff00ff"/><rect x="12" width="12" height="11" fill="#ff00ff"/><rect x="24" width="12" height="11" fill="#ff00ff"/><rect x="36" width="12" height="11" fill="#ff00ff"/><rect x="48" width="12" height="11" fill="#ff00ff"/></g>
<text class="m" x="1089" y="449" font-size="14">e</text>
</g>
<g id="title-matrix" class="c" transform="translate(1204,426)">
<rect x="0" y="0" width="12.4" height="10.7" fill="#fff"/><rect x="12.4" y="0" width="12.4" height="10.7" fill="#999"/><rect x="24.8" y="0" width="12.4" height="10.7" fill="#000"/><rect x="37.2" y="0" width="12.4" height="10.7" fill="#666"/><rect x="49.6" y="0" width="12.4" height="10.7" fill="#fff"/>
<rect x="0" y="10.7" width="12.4" height="10.7" fill="#fff"/><rect x="12.4" y="10.7" width="12.4" height="10.7" fill="#333"/><rect x="24.8" y="10.7" width="12.4" height="10.7" fill="#333"/><rect x="37.2" y="10.7" width="12.4" height="10.7" fill="#000"/><rect x="49.6" y="10.7" width="12.4" height="10.7" fill="#bbb"/>
<rect x="0" y="21.4" width="12.4" height="10.7" fill="#000"/><rect x="12.4" y="21.4" width="12.4" height="10.7" fill="#bbb"/><rect x="24.8" y="21.4" width="12.4" height="10.7" fill="#333"/><rect x="37.2" y="21.4" width="12.4" height="10.7" fill="#333"/><rect x="49.6" y="21.4" width="12.4" height="10.7" fill="#000"/>
</g>
<g id="item-mean-pool">
<rect class="bx" x="1183" y="399" width="104" height="10.5"/>
<text class="t mid" x="1235" y="408" font-size="9" xml:space="preserve">Mean-pooling  Layer</text>
</g>
<g id="mlp">
<rect class="bx" x="1183" y="373" width="104" height="11"/>
<text class="t mid" x="1235" y="382" font-size="9.5">MLP Layer</text>
</g>
<g id="mlp-out" class="c" transform="translate(1204,346)">
<rect x="0" width="12.4" height="11" fill="#000"/><rect x="12.4" width="12.4" height="11" fill="#ccc"/><rect x="24.8" width="12.4" height="11" fill="#333"/><rect x="37.2" width="12.4" height="11" fill="#444"/><rect x="49.6" width="12.4" height="11" fill="#000"/>
</g>
<g id="h-item">
<g class="c" transform="translate(1152,286)"><rect x="0" width="12.2" height="10" fill="#ff00ff"/><rect x="12.2" width="12.2" height="10" fill="#ff00ff"/><rect x="24.4" width="12.2" height="10" fill="#000"/><rect x="36.6" width="12.2" height="10" fill="#666"/><rect x="48.8" width="12.2" height="10" fill="#999"/></g>
<text class="m" x="1114" y="296" font-size="14">H<tspan font-size="9.5" dy="2">item</tspan></text>
</g>

<text x="675" y="710" text-anchor="middle" font-family="Liberation Serif,Times New Roman,serif" font-weight="bold" font-size="20.5" textLength="1195" lengthAdjust="spacingAndGlyphs">Figure 2: General architecture of the proposed Multi-Grained Deep Semantic Product Retrieval model (MGDSPR).</text>
</svg>
